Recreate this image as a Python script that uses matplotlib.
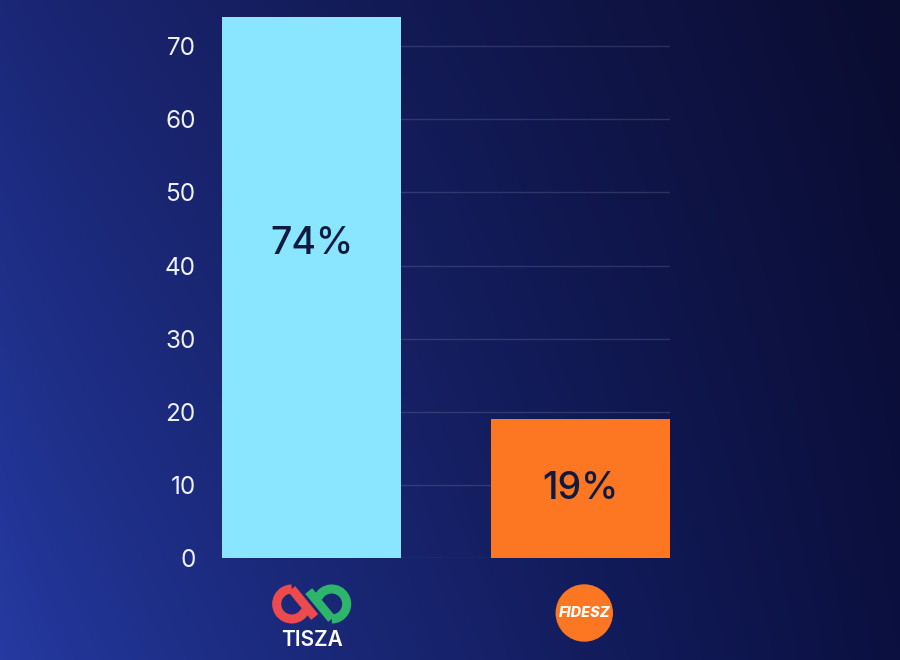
import numpy as np
import matplotlib
matplotlib.use("Agg")
import matplotlib.pyplot as plt
from matplotlib.patches import Arc, Circle

# data
parties = ["TISZA", "FIDESZ"]
values = [74, 19]
value_labels = ["74%", "19%"]
label_y = [43, 9.5]          # height at which the % label sits inside each bar
bar_colors = ["#8ae6ff", "#fd7722"]
yticks = [0, 10, 20, 30, 40, 50, 60, 70]

plt.rcParams['font.family'] = ['Inter', 'DejaVu Sans']

fig = plt.figure(figsize=(9, 6.6), dpi=100)

# background gradient (figure-level axes in pixel coords, y up)
bg = fig.add_axes([0, 0, 1, 1])
bg.set_xlim(0, 900)
bg.set_ylim(0, 660)
bg.axis("off")
tl = np.array([0x1b, 0x28, 0x78]) / 255
bl = np.array([0x25, 0x3a, 0xa2]) / 255
tr = np.array([0x0a, 0x0c, 0x30]) / 255
br = np.array([0x0b, 0x10, 0x40]) / 255
gx = np.linspace(0, 1, 300) ** 0.85
gy = np.linspace(0, 1, 220)[:, None, None]   # 0 = top, 1 = bottom
left = tl * (1 - gy) + bl * gy
right = tr * (1 - gy) + br * gy
img = left * (1 - gx[None, :, None]) + right * gx[None, :, None]
bg.imshow(img, extent=[0, 900, 0, 660], aspect="auto", origin="upper", zorder=0)

# main chart
ax = fig.add_axes([222 / 900, 102 / 660, 448 / 900, 541 / 660])
ax.patch.set_alpha(0)
x = np.arange(len(parties))
ax.bar(x, values, width=0.668, color=bar_colors, zorder=3)
ax.set_xlim(-0.334, 1.334)
ax.set_ylim(0, 74)
ax.set_yticks(yticks)
ax.set_xticks([])
ax.tick_params(axis="y", length=0, pad=19, labelsize=17.5, labelcolor="#eef1f8")
ax.grid(axis="y", color="white", alpha=0.13, linewidth=1, zorder=1)
for s in ax.spines.values():
    s.set_visible(False)

for xi, ly, lab in zip(x, label_y, value_labels):
    ax.text(xi, ly, lab, ha="center", va="center", fontsize=27,
            fontweight="medium", color="#0f1b3e", zorder=4)

# party logos under the bars
fig.canvas.draw()
px = [ax.transData.transform((xi, 0))[0] for xi in x]

# TISZA logo
cx = px[0]
cy = 56
r = 15
lw = 6.5
red = "#ec4a4c"
green = "#2db56c"
bg.add_patch(Arc((cx - 20, cy), 2 * r, 2 * r, theta1=90, theta2=335,
                 color=red, lw=lw, zorder=5))
bg.plot([cx - 20, cx + 3], [cy + r, cy - 13], color=red, lw=lw,
        solid_capstyle="butt", zorder=5)
bg.add_patch(Arc((cx + 20, cy), 2 * r, 2 * r, theta1=-90, theta2=155,
                 color=green, lw=lw, zorder=5))
bg.plot([cx + 20, cx - 3], [cy - r, cy + 13], color=green, lw=lw,
        solid_capstyle="butt", zorder=5)
bg.text(cx, 20, parties[0], ha="center", va="center", fontsize=15,
        fontweight="semibold", color="white", zorder=5)

# FIDESZ logo
fx = px[1] + 4
bg.add_patch(Circle((fx, 47), 28, color="#fd7722", zorder=5))
bg.text(fx, 47, parties[1], ha="center", va="center", fontsize=10.5,
        fontweight="heavy", fontstyle="italic", color="white", zorder=6)

fig.savefig("out.png", dpi=100)
